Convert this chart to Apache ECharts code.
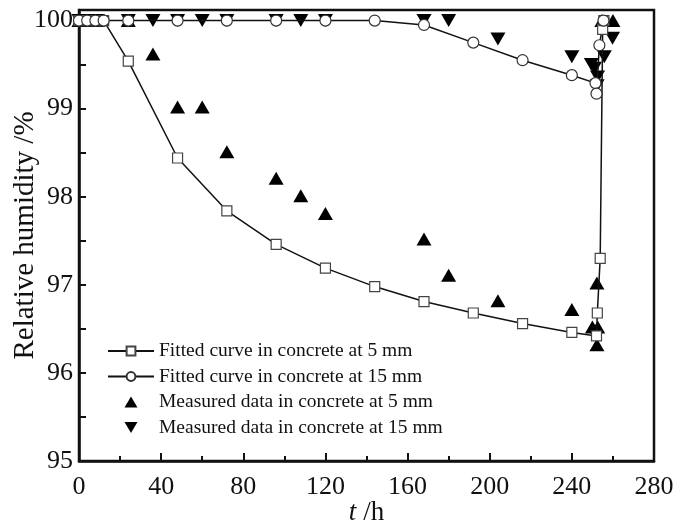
<!DOCTYPE html>
<html>
<head>
<meta charset="utf-8">
<script src="https://cdn.jsdelivr.net/npm/echarts@6/dist/echarts.min.js"></script>
<style>
  html, body { margin: 0; padding: 0; background: #fff; }
  #main { width: 686px; height: 524px; }
</style>
</head>
<body>
<div id="main"></div>
<script>
// values: [t in h, relative humidity in %]
var fitted5 = [
  [0, 100], [4, 100], [8, 100], [12, 100], [24, 99.54], [48, 98.44], [72, 97.84],
  [96, 97.46], [120, 97.19], [144, 96.98], [168, 96.81], [192, 96.68], [216, 96.56],
  [240, 96.46], [252, 96.42], [252.4, 96.68], [253.8, 97.30], [255, 99.9], [255.6, 100]
];
var fitted15 = [
  [0, 100], [4, 100], [8, 100], [12, 100], [24, 100], [48, 100], [72, 100], [96, 100],
  [120, 100], [144, 100], [168, 99.95], [192, 99.75], [216, 99.55], [240, 99.38],
  [251.5, 99.29], [252, 99.17], [253.4, 99.72], [255.4, 100]
];
var measured5 = [
  [0, 100], [3, 100], [6, 100], [9, 100], [24, 100], [36, 99.62], [48, 99.02], [60, 99.02],
  [72, 98.51], [96, 98.21], [108, 98.01], [120, 97.81], [168, 97.52], [180, 97.11],
  [204, 96.82], [240, 96.72], [250, 96.52], [252.6, 96.52], [252.2, 96.32], [252.2, 97.02],
  [254.6, 100], [260, 100]
];
var measured15 = [
  [0, 100], [3, 100], [6, 100], [9, 100], [24, 100], [36, 100], [48, 100], [60, 100],
  [72, 100], [96, 100], [108, 100], [120, 100], [168, 100], [180, 100], [204, 99.79],
  [240, 99.59], [249.5, 99.50], [251, 99.46], [252.5, 99.36], [252.3, 99.26], [255.8, 99.59],
  [259.8, 99.80]
];
var seriesNames = [
  'Fitted curve in concrete at 5 mm',
  'Fitted curve in concrete at 15 mm',
  'Measured data in concrete at 5 mm',
  'Measured data in concrete at 15 mm'
];

var serif = 'Liberation Serif, Times New Roman, serif';
var upTri = 'path://M10,0L20,17L0,17Z';
var downTri = 'path://M0,0L20,0L10,17Z';

var chart = echarts.init(document.getElementById('main'));
chart.setOption({
  animation: false,
  grid: {
    left: 79, right: 32, top: 10, bottom: 63,
    outerBoundsMode: 'none', containLabel: false,
    show: true, borderColor: '#111', borderWidth: 2.5, backgroundColor: 'transparent'
  },
  legend: {
    orient: 'vertical',
    left: 102, top: 336,
    itemWidth: 46, itemHeight: 11, itemGap: 5.5,
    textStyle: { fontFamily: serif, fontSize: 19.5, color: '#111', lineHeight: 20 },
    data: [
      { name: seriesNames[0] },
      { name: seriesNames[1] },
      { name: seriesNames[2], icon: upTri },
      { name: seriesNames[3], icon: downTri }
    ]
  },
  xAxis: {
    type: 'value', min: 0, max: 280, interval: 40,
    name: '{t|t} /h', nameLocation: 'middle', nameGap: 38, nameMoveOverlap: false,
    nameTextStyle: {
      fontFamily: serif, fontSize: 27, color: '#111',
      rich: { t: { fontFamily: serif, fontSize: 27, fontStyle: 'italic', color: '#111' } }
    },
    axisLine: { lineStyle: { color: '#111', width: 2.5 } },
    axisTick: { inside: true, length: 8, lineStyle: { color: '#111', width: 2 } },
    minorTick: { show: true, splitNumber: 2, length: 5, lineStyle: { color: '#111', width: 2 } },
    axisLabel: { fontFamily: serif, fontSize: 26, color: '#111', margin: 13 },
    splitLine: { show: false }
  },
  yAxis: {
    type: 'value', min: 95, max: 100.12, interval: 1,
    name: 'Relative humidity /%', nameLocation: 'middle', nameGap: 39, nameMoveOverlap: false,
    nameTextStyle: { fontFamily: serif, fontSize: 29, color: '#111' },
    axisLine: { lineStyle: { color: '#111', width: 2.5 } },
    axisTick: { inside: true, length: 7, lineStyle: { color: '#111', width: 2 } },
    minorTick: { show: true, splitNumber: 2, length: 7, lineStyle: { color: '#111', width: 2 } },
    axisLabel: {
      fontFamily: serif, fontSize: 26, color: '#111', margin: 6,
      formatter: function (v) { return Math.abs(v - Math.round(v)) < 1e-6 ? String(Math.round(v)) : ''; }
    },
    splitLine: { show: false }
  },
  series: [
    {
      name: seriesNames[0], type: 'line', data: fitted5, clip: false,
      symbol: 'rect', symbolSize: 10, showAllSymbol: true,
      lineStyle: { color: '#111', width: 1.5 },
      itemStyle: { color: '#fff', borderColor: '#444', borderWidth: 1.2 }
    },
    {
      name: seriesNames[1], type: 'line', data: fitted15, clip: false,
      symbol: 'circle', symbolSize: 11, showAllSymbol: true,
      lineStyle: { color: '#111', width: 1.5 },
      itemStyle: { color: '#fff', borderColor: '#333', borderWidth: 1.2 }
    },
    {
      name: seriesNames[2], type: 'scatter', data: measured5, clip: false,
      symbol: upTri, symbolSize: [15, 13],
      itemStyle: { color: '#000', opacity: 1 }
    },
    {
      name: seriesNames[3], type: 'scatter', data: measured15, clip: false,
      symbol: downTri, symbolSize: [15, 13],
      itemStyle: { color: '#000', opacity: 1 }
    }
  ]
});
</script>
</body>
</html>
